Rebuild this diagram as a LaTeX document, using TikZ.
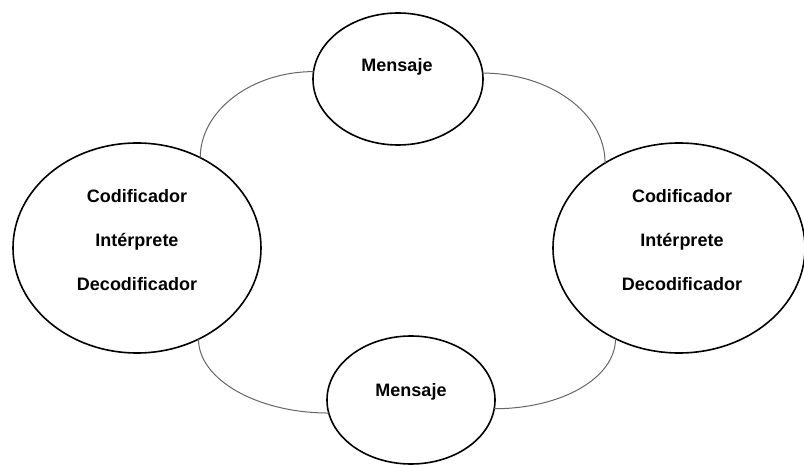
\documentclass[tikz,border=0pt]{standalone}
\usepackage{fontspec}
\setmainfont{Liberation Sans}
\usetikzlibrary{shapes.geometric}
\begin{document}
\begin{tikzpicture}[x=1pt,y=-1pt,
  bubble/.style={draw=black,line width=1.6pt,ellipse,inner sep=0pt,outer sep=0pt},
  conn/.style={draw=black!60,line width=1pt},
  lbl/.style={font=\bfseries\fontsize{18}{44}\selectfont,align=center,inner sep=0pt}]
\useasboundingbox (0,0) rectangle (804,465);
\node[bubble,minimum width=170pt,minimum height=132pt] (T) at (398,79) {};
\node[bubble,minimum width=168pt,minimum height=128pt] (B) at (411,400) {};
\node[bubble,minimum width=248pt,minimum height=210pt] (L) at (137,248) {};
\node[bubble,minimum width=252pt,minimum height=210pt] (R) at (679,248) {};
\node[lbl] (tt) at (397,67) {Mensaje};
\node[lbl] (bt) at (411,392) {Mensaje};
\node[lbl] (lt) at (137,240) {Codificador\\Intérprete\\Decodificador};
\node[lbl] (rt) at (682,240) {Codificador\\Intérprete\\Decodificador};
\draw[conn] (T.175.3) .. controls +(-62,0) and +(0,-47) .. (L.55.3);
\draw[conn] (T.4.1) .. controls +(67,0) and +(0,-50) .. (R.131.8);
\draw[conn] (L.-56.5) .. controls +(0,40) and +(-72,0) .. (B.-171.8);
\draw[conn] (B.-6.1) .. controls +(68,0) and +(0,39) .. (R.235.9);
\end{tikzpicture}
\end{document}
